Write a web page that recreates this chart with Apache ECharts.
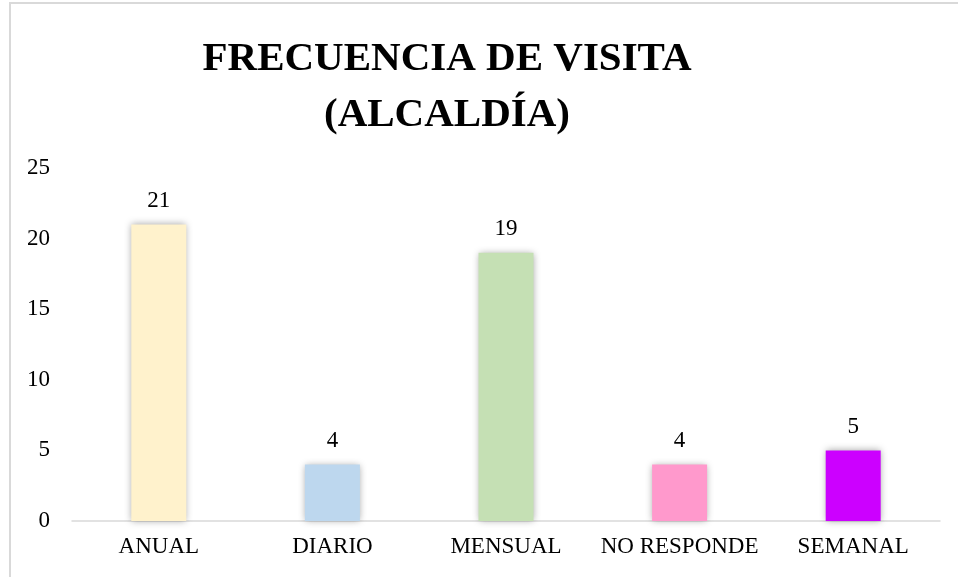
<!DOCTYPE html>
<html>
<head>
<meta charset="utf-8">
<script src="https://cdn.jsdelivr.net/npm/echarts@6/dist/echarts.min.js"></script>
<style>
  html, body { margin: 0; padding: 0; background: #fff; }
  #frame {
    position: absolute; left: 9px; top: 2px; width: 1000px; height: 700px;
    border-left: 2px solid #d9d9d9; border-top: 2px solid #d9d9d9;
  }
  #chart { position: absolute; left: 0; top: 0; width: 958px; height: 577px; }
</style>
</head>
<body>
<div id="frame"></div>
<div id="chart"></div>
<script>
  // Data
  const categories = ['ANUAL', 'DIARIO', 'MENSUAL', 'NO RESPONDE', 'SEMANAL']
  const values = [21, 4, 19, 4, 5]
  const barColors = ['#FFF2CC', '#BDD7EE', '#C5E0B4', '#FF99CC', '#CC00FF']
  const yTicks = { min: 0, max: 25, interval: 5 }

  const chart = echarts.init(document.getElementById('chart'))
  const font = "'Liberation Serif', 'Times New Roman', serif"

  const options = {
    animation: false,
    title: {
      text: 'FRECUENCIA DE VISITA\n(ALCALDÍA)',
      left: 442,
      top: 26,
      textAlign: 'center',
      textStyle: {
        fontFamily: font,
        fontWeight: 'bold',
        fontSize: 41,
        lineHeight: 56,
        color: '#000'
      }
    },
    grid: { left: 72, right: 18, top: 168, bottom: 56 },
    xAxis: {
      type: 'category',
      data: categories,
      axisLine: { lineStyle: { color: '#d9d9d9', width: 1.5 } },
      axisTick: { show: false },
      axisLabel: { interval: 0, fontFamily: font, fontSize: 23, color: '#000', margin: 14 }
    },
    yAxis: {
      type: 'value',
      min: yTicks.min,
      max: yTicks.max,
      interval: yTicks.interval,
      axisLine: { show: false },
      axisTick: { show: false },
      splitLine: { show: false },
      axisLabel: { fontFamily: font, fontSize: 23, color: '#000', margin: 22 }
    },
    series: [
      {
        type: 'bar',
        barWidth: 55,
        data: values.map((v, i) => ({
          value: v,
          itemStyle: { color: barColors[i] }
        })),
        itemStyle: {
          shadowColor: 'rgba(0, 0, 0, 0.35)',
          shadowBlur: 7
        },
        label: {
          show: true,
          position: 'top',
          distance: 12,
          fontFamily: font,
          fontSize: 23,
          color: '#000'
        }
      }
    ]
  }
  chart.setOption(options)
</script>
</body>
</html>
